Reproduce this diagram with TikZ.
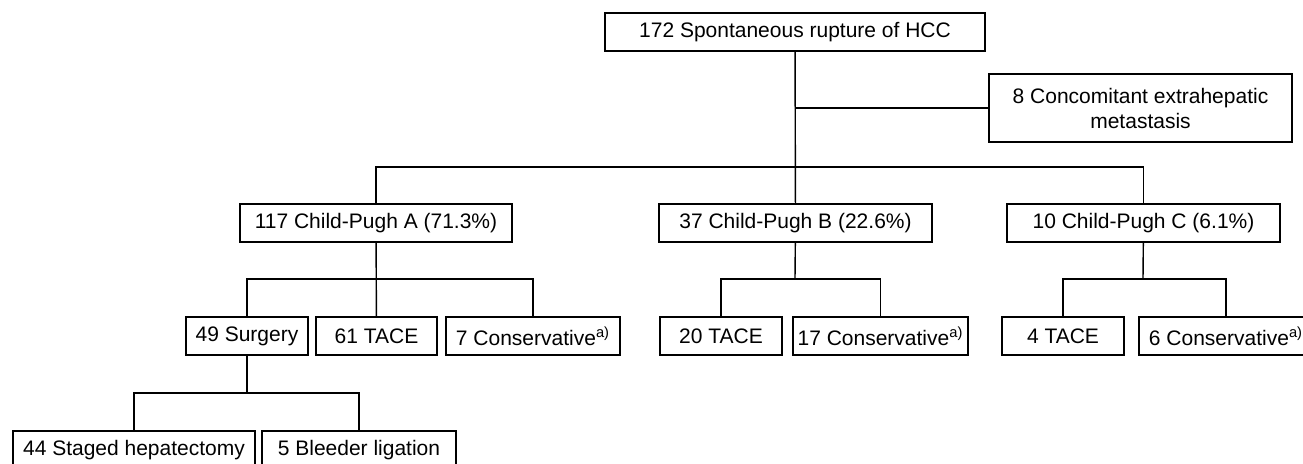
\documentclass[tikz,border=0pt]{standalone}
\usepackage{fontspec}
\setmainfont{Liberation Sans}
\tikzset{
	box/.style={draw, rectangle, inner sep=0pt, minimum height=19pt, font=\fontsize{10.5}{12.5}\selectfont},
}
\begin{document}
\begin{tikzpicture}[x=0.5pt, y=-0.5pt, line width=0.7pt]
		\useasboundingbox (0,0) rectangle (1303,463);
		\node (rupture) [box, minimum width=190pt] at (795,32) {172 Spontaneous rupture of HCC};
		\node (extrahep) [box, minimum width=151.5pt, minimum height=34pt, align=center] at (1140.5,108) {8 Concomitant extrahepatic\\metastasis};
		
		\node (childa) [box, minimum width=136pt] at (376,223) {117 Child-Pugh A (71.3\%)};
		\node (childb) [box, minimum width=136.5pt] at (795.5,223) {37 Child-Pugh B (22.6\%)};
		\node (childc) [box, minimum width=136.5pt] at (1143.5,223) {10 Child-Pugh C (6.1\%)};
		
		\node (surgerya) [box, minimum width=61pt] at (247,336) {49 Surgery};
		\node (tacea) [box, minimum width=60.5pt] at (376.5,336) {61 TACE};
		\node (conserva) [box, minimum width=87pt] at (533,336) {7 Conservative\textsuperscript{a)}};
		\node (taceb) [box, minimum width=61pt] at (721,336) {20 TACE};
		\node (conservb) [box, minimum width=87.5pt] at (880.5,336) {17 Conservative\textsuperscript{a)}};
		\node (tacec) [box, minimum width=61pt] at (1063,336) {4 TACE};
		\node (conservc) [box, minimum width=87pt] at (1226,336) {6 Conservative\textsuperscript{a)}};
		
		\node (staged) [box, minimum width=121pt] at (134,450) {44 Staged hepatectomy};
		\node (bleeder) [box, minimum width=97pt] at (359,450) {5 Bleeder ligation};
		
		\coordinate (bartop) at (795,167);
		\coordinate (bara) at (376,279);
		\coordinate (barb) at (795,279);
		\coordinate (barc) at (1143,279);
		\coordinate (bars) at (247,393);
		
		\draw (rupture) -- (childb);
		\draw (extrahep.west) -- (extrahep.west -| rupture.south);
		\draw (childa.north) |- (bartop) -| (childc.north);
		\draw (childa) -- (tacea);
		\draw (surgerya.north) |- (bara) -| (conserva.north);
		\draw (childb) -- (barb);
		\draw (taceb.north) |- (barb) -| (conservb.north);
		\draw (childc) -- (barc);
		\draw (tacec.north) |- (barc) -| (conservc.north);
		\draw (surgerya) -- (bars);
		\draw (staged.north) |- (bars) -| (bleeder.north);
	\end{tikzpicture}
\end{document}
